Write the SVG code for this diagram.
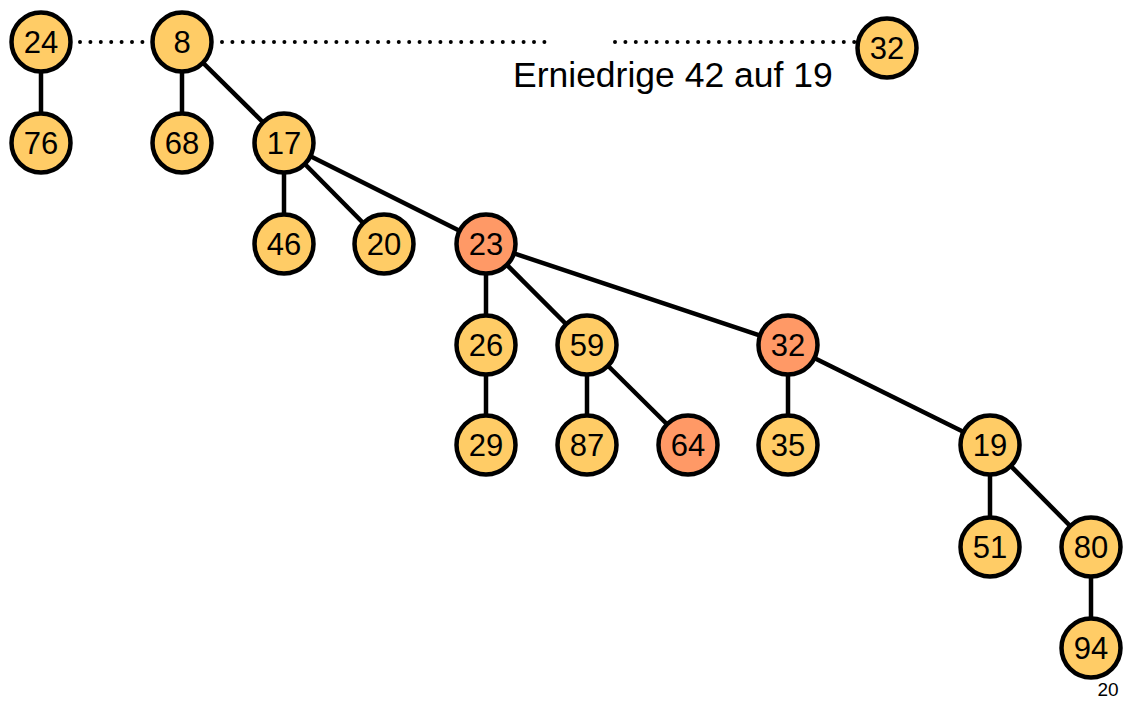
<svg xmlns="http://www.w3.org/2000/svg" width="1125" height="701" viewBox="0 0 1125 701">
<style>
.n circle{fill:#FFCC66;stroke:#000;stroke-width:4.5}
.n.o circle{fill:#FF9966}
.n text{font-family:"Liberation Sans",Arial,sans-serif;font-size:31px;text-anchor:middle;fill:#000}
#edges line{stroke:#000;stroke-width:4.5}
#dots line{stroke:#000;stroke-width:4;stroke-linecap:round;stroke-dasharray:0 10.4}
.t{font-family:"Liberation Sans",Arial,sans-serif;fill:#000}
</style>
<rect width="1125" height="701" fill="#fff"/>
<g id="dots">
<line x1="80" y1="42" x2="146" y2="42"/>
<line x1="222" y1="42" x2="545" y2="42"/>
<line x1="615" y1="42" x2="855" y2="42"/>
</g>
<g id="edges">
<line x1="41" y1="42" x2="41" y2="143"/>
<line x1="182" y1="42" x2="182" y2="143"/>
<line x1="182" y1="42" x2="284" y2="143"/>
<line x1="284" y1="143" x2="284" y2="244"/>
<line x1="284" y1="143" x2="384" y2="244"/>
<line x1="284" y1="143" x2="486" y2="244"/>
<line x1="486" y1="244" x2="486" y2="345"/>
<line x1="486" y1="244" x2="587" y2="345"/>
<line x1="486" y1="244" x2="788" y2="345"/>
<line x1="486" y1="345" x2="486" y2="445"/>
<line x1="587" y1="345" x2="587" y2="445"/>
<line x1="587" y1="345" x2="688" y2="445"/>
<line x1="788" y1="345" x2="788" y2="445"/>
<line x1="788" y1="345" x2="990" y2="445"/>
<line x1="990" y1="445" x2="990" y2="547"/>
<line x1="990" y1="445" x2="1091" y2="547"/>
<line x1="1091" y1="547" x2="1091" y2="648"/>
</g>
<g id="n24" class="n"><circle cx="41" cy="42" r="29.5"/><text x="41" y="53">24</text></g>
<g id="n76" class="n"><circle cx="41" cy="143" r="29.5"/><text x="41" y="154">76</text></g>
<g id="n8" class="n"><circle cx="182" cy="42" r="29.5"/><text x="182" y="53">8</text></g>
<g id="n68" class="n"><circle cx="182" cy="143" r="29.5"/><text x="182" y="154">68</text></g>
<g id="n17" class="n"><circle cx="284" cy="143" r="29.5"/><text x="284" y="154">17</text></g>
<g id="n46" class="n"><circle cx="284" cy="244" r="29.5"/><text x="284" y="255">46</text></g>
<g id="n20" class="n"><circle cx="384" cy="244" r="29.5"/><text x="384" y="255">20</text></g>
<g id="n23" class="n o"><circle cx="486" cy="244" r="29.5"/><text x="486" y="255">23</text></g>
<g id="n26" class="n"><circle cx="486" cy="345" r="29.5"/><text x="486" y="356">26</text></g>
<g id="n59" class="n"><circle cx="587" cy="345" r="29.5"/><text x="587" y="356">59</text></g>
<g id="n32" class="n o"><circle cx="788" cy="345" r="29.5"/><text x="788" y="356">32</text></g>
<g id="n29" class="n"><circle cx="486" cy="445" r="29.5"/><text x="486" y="456">29</text></g>
<g id="n87" class="n"><circle cx="587" cy="445" r="29.5"/><text x="587" y="456">87</text></g>
<g id="n64" class="n o"><circle cx="688" cy="445" r="29.5"/><text x="688" y="456">64</text></g>
<g id="n35" class="n"><circle cx="788" cy="445" r="29.5"/><text x="788" y="456">35</text></g>
<g id="n19" class="n"><circle cx="990" cy="445" r="29.5"/><text x="990" y="456">19</text></g>
<g id="n51" class="n"><circle cx="990" cy="547" r="29.5"/><text x="990" y="558">51</text></g>
<g id="n80" class="n"><circle cx="1091" cy="547" r="29.5"/><text x="1091" y="558">80</text></g>
<g id="n94" class="n"><circle cx="1091" cy="648" r="29.5"/><text x="1091" y="659">94</text></g>
<g id="n32top" class="n"><circle cx="887" cy="48" r="29.5"/><text x="887" y="59">32</text></g>
<text class="t" x="513" y="87" font-size="35.5">Erniedrige 42 auf 19</text>
<text class="t" x="1108" y="696" font-size="19" text-anchor="middle">20</text>
</svg>
